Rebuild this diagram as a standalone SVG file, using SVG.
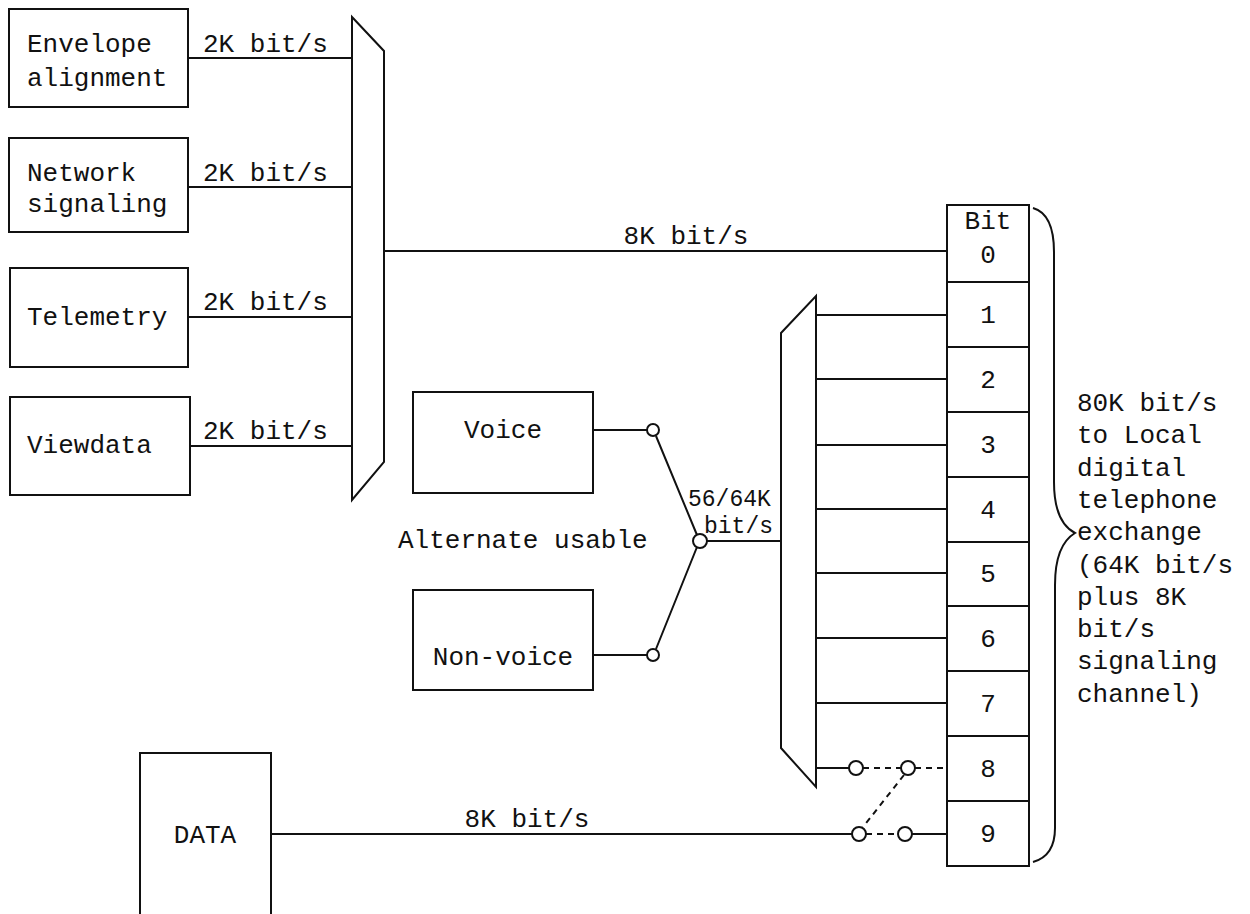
<svg xmlns="http://www.w3.org/2000/svg" width="1250" height="914" viewBox="0 0 1250 914">
<style>
.b{fill:none;stroke:#111;stroke-width:2}
.l{fill:none;stroke:#111;stroke-width:2}
.d{fill:none;stroke:#111;stroke-width:2;stroke-dasharray:6 5}
.c{fill:#fff;stroke:#111;stroke-width:2}
text{font-family:"Liberation Mono","Courier New",monospace;font-size:26px;fill:#111}
.m{text-anchor:middle}
.s{font-size:23px}
</style>
<rect width="1250" height="914" fill="#fff"/>
<g id="envelope"><rect class="b" x="9" y="9" width="179" height="98"/><text x="27" y="52">Envelope</text><text x="27" y="86">alignment</text></g>
<g id="network"><rect class="b" x="9" y="138" width="179" height="94"/><text x="27" y="181">Network</text><text x="27" y="212">signaling</text></g>
<g id="telemetry"><rect class="b" x="10" y="268" width="178" height="99"/><text x="27" y="325">Telemetry</text></g>
<g id="viewdata"><rect class="b" x="10" y="397" width="180" height="98"/><text x="27" y="453">Viewdata</text></g>
<g id="mux1"><polygon class="b" points="352,17 384,51 384,462 352,500"/></g>
<g id="voice"><rect class="b" x="413" y="392" width="180" height="101"/><text class="m" x="503" y="438">Voice</text></g>
<g id="nonvoice"><rect class="b" x="413" y="590" width="180" height="100"/><text class="m" x="503" y="665">Non-voice</text></g>
<g id="data"><rect class="b" x="140" y="753" width="131" height="180"/><text class="m" x="205" y="843">DATA</text></g>
<g id="mux2"><polygon class="b" points="781,333 816,296 816,787 781,748"/></g>
<g id="bits">
<rect class="b" x="947" y="205" width="82" height="661"/>
<path class="l" d="M947,282H1029M947,347H1029M947,412H1029M947,477H1029M947,542H1029M947,606H1029M947,671H1029M947,736H1029M947,801H1029"/>
<text class="m" x="988" y="229">Bit</text><text class="m" x="988" y="263">0</text>
<text class="m" x="988" y="323">1</text><text class="m" x="988" y="388">2</text><text class="m" x="988" y="453">3</text>
<text class="m" x="988" y="518">4</text><text class="m" x="988" y="582">5</text><text class="m" x="988" y="647">6</text>
<text class="m" x="988" y="712">7</text><text class="m" x="988" y="777">8</text><text class="m" x="988" y="842">9</text>
</g>
<g id="brace"><path class="l" d="M1033,208 Q1054,214 1054,252 L1054,482 Q1054,522 1075,533 Q1055,545 1055,585 L1055,828 Q1055,856 1033,862"/></g>
<g id="connectors">
<path class="l" d="M188,58H352M188,187H352M188,317H352M190,446H352M384,251H947"/>
<path class="l" d="M816,315H947M816,379H947M816,445H947M816,509H947M816,573H947M816,638H947M816,703H947"/>
<path class="l" d="M593,430H647M593,655H647M706,541H781"/>
<path class="l" d="M656,436L697,535M656,649L697,547"/>
<path class="l" d="M816,768H849M271,834H852M912,834H947"/>
<path class="d" d="M863,768H901M915,768H947M866,834H898M904,775L863,827"/>
<circle class="c" cx="653" cy="430" r="6"/>
<circle class="c" cx="653" cy="655" r="6"/>
<circle class="c" cx="700" cy="541" r="7"/>
<circle class="c" cx="856" cy="768" r="7"/>
<circle class="c" cx="908" cy="768" r="7"/>
<circle class="c" cx="859" cy="834" r="7"/>
<circle class="c" cx="905" cy="834" r="7"/>
</g>
<g id="labels">
<text x="203" y="52">2K bit/s</text>
<text x="203" y="181">2K bit/s</text>
<text x="203" y="310">2K bit/s</text>
<text x="203" y="439">2K bit/s</text>
<text class="m" x="686" y="244">8K bit/s</text>
<text class="m" x="527" y="827">8K bit/s</text>
<text class="s" x="688" y="506">56/64K</text>
<text class="s" x="704" y="533">bit/s</text>
<text x="398" y="548">Alternate usable</text>
<text x="1077" y="411">80K bit/s</text>
<text x="1077" y="443">to Local</text>
<text x="1077" y="476">digital</text>
<text x="1077" y="508">telephone</text>
<text x="1077" y="540">exchange</text>
<text x="1077" y="573">(64K bit/s</text>
<text x="1077" y="605">plus 8K</text>
<text x="1077" y="637">bit/s</text>
<text x="1077" y="669">signaling</text>
<text x="1077" y="702">channel)</text>
</g>
</svg>
